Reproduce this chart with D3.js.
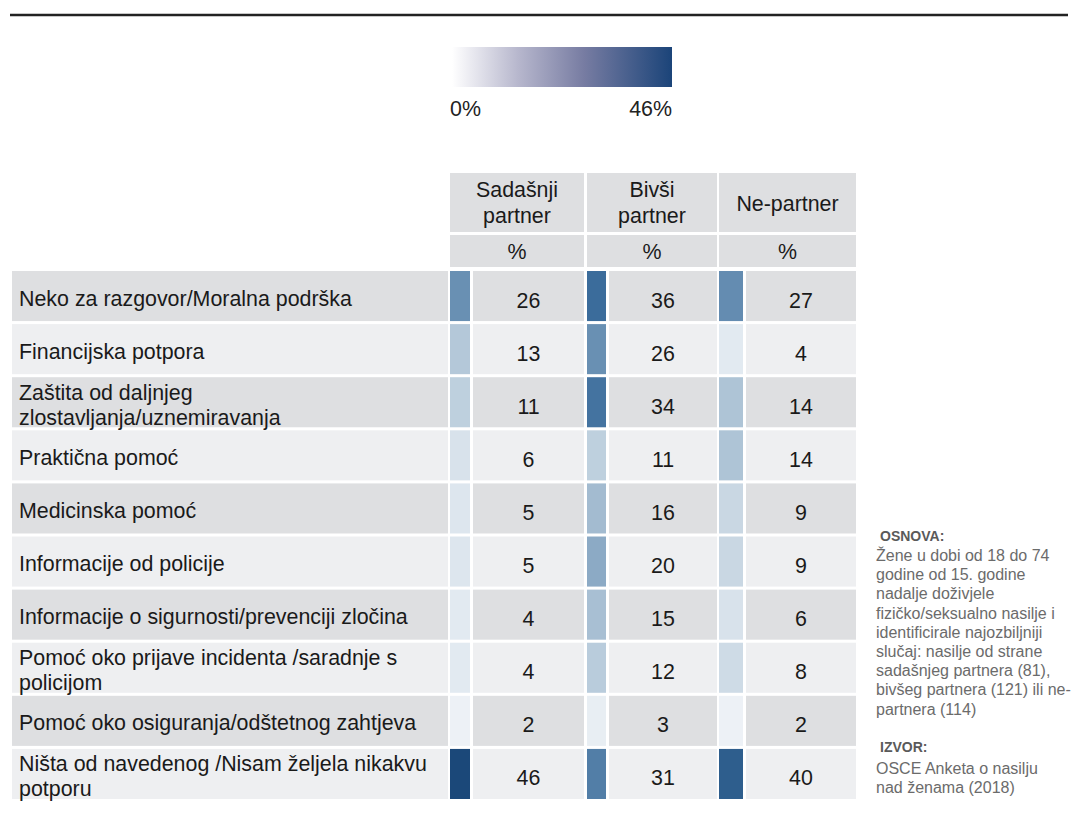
<!DOCTYPE html>
<html>
<head>
<meta charset="utf-8">
<script src="https://cdn.jsdelivr.net/npm/d3@7"></script>
<style>
  body { margin: 0; background: #fff; }
  text { font-family: "Liberation Sans", Arial, Helvetica, sans-serif; }
</style>
</head>
<body>
<div id="chart"></div>
<script>
// data
const categories = [
  "Neko za razgovor/Moralna podrška",
  "Financijska potpora",
  "Zaštita od daljnjeg\nzlostavljanja/uznemiravanja",
  "Praktična pomoć",
  "Medicinska pomoć",
  "Informacije od policije",
  "Informacije o sigurnosti/prevenciji zločina",
  "Pomoć oko prijave incidenta /saradnje s\npolicijom",
  "Pomoć oko osiguranja/odštetnog zahtjeva",
  "Ništa od navedenog /Nisam željela nikakvu\npotporu"
];
const seriesNames = ["Sadašnji\npartner", "Bivši\npartner", "Ne-partner"];
const sadasnji = [26, 13, 11, 6, 5, 5, 4, 4, 2, 46];
const bivsi = [36, 26, 34, 11, 16, 20, 15, 12, 3, 31];
const nePartner = [27, 4, 14, 14, 9, 9, 6, 8, 2, 40];
const legendTicks = ["0%", "46%"];
const unitLabel = "%";
const noteBaseTitle = "OSNOVA:";
const noteBase = [
  "Žene u dobi od 18 do 74",
  "godine od 15. godine",
  "nadalje doživjele",
  "fizičko/seksualno nasilje i",
  "identificirale najozbiljniji",
  "slučaj: nasilje od strane",
  "sadašnjeg partnera (81),",
  "bivšeg partnera (121) ili ne-",
  "partnera (114)"
];
const noteSourceTitle = "IZVOR:";
const noteSource = ["OSCE Anketa o nasilju", "nad ženama (2018)"];

const series = [sadasnji, bivsi, nePartner];

// layout
const W = 1071, H = 821;
const fs = 21.4;
const svg = d3.select("#chart").append("svg")
  .attr("width", W).attr("height", H);

const dark = "#dedfe1", light = "#eeeff1";
const colLeft = [450, 587, 719], colRight = [584, 717, 856], barW = [20, 19, 24];

// top rule
svg.append("line")
  .attr("x1", 10).attr("x2", 1068).attr("y1", 15).attr("y2", 15)
  .attr("stroke", "#222").attr("stroke-width", 2.5);

// colour scale
const color = d3.scaleLinear()
  .domain([0, 13, 26, 36, 46])
  .range(["#f7f9fb", "#b4c8d9", "#6990b3", "#3b6c9b", "#1b4879"]);

// legend
const defs = svg.append("defs");
const grad = defs.append("linearGradient").attr("id", "lg");
[[0, "#ffffff"], [0.3, "#b7b7cd"], [0.6, "#777ca2"], [1, "#1b4479"]].forEach(s =>
  grad.append("stop").attr("offset", s[0]).attr("stop-color", s[1]));
const lx = d3.scaleLinear().domain([0, 46]).range([452, 672]);
svg.append("rect")
  .attr("x", lx(0)).attr("y", 47).attr("width", lx(46) - lx(0)).attr("height", 40)
  .attr("fill", "url(#lg)");
svg.append("text").attr("x", lx(0) - 2).attr("y", 116)
  .attr("font-size", fs).attr("fill", "#222").text(legendTicks[0]);
svg.append("text").attr("x", lx(46)).attr("y", 116).attr("text-anchor", "end")
  .attr("font-size", fs).attr("fill", "#222").text(legendTicks[1]);

// header
seriesNames.forEach((name, j) => {
  const cx = (colLeft[j] + colRight[j]) / 2;
  svg.append("rect").attr("x", colLeft[j]).attr("y", 173)
    .attr("width", colRight[j] - colLeft[j]).attr("height", 59).attr("fill", dark);
  svg.append("rect").attr("x", colLeft[j]).attr("y", 235)
    .attr("width", colRight[j] - colLeft[j]).attr("height", 32).attr("fill", dark);
  const lines = name.split("\n");
  const t = svg.append("text").attr("text-anchor", "middle")
    .attr("font-size", fs).attr("fill", "#1a1a1a");
  lines.forEach((l, k) => {
    t.append("tspan").attr("x", cx)
      .attr("y", lines.length === 1 ? 211 : 197 + k * 25.5).text(l);
  });
  svg.append("text").attr("x", cx).attr("y", 259).attr("text-anchor", "middle")
    .attr("font-size", fs).attr("fill", "#1a1a1a").text(unitLabel);
});

// rows
const y = d3.scaleBand().domain(d3.range(categories.length))
  .range([271, 799]).paddingInner(0.057);

const rows = svg.append("g").selectAll("g")
  .data(categories)
  .join("g")
  .attr("transform", (d, i) => `translate(0,${y(i)})`);

rows.append("rect")
  .attr("x", 12).attr("width", 436).attr("height", y.bandwidth())
  .attr("fill", (d, i) => i % 2 ? light : dark);

rows.append("text")
  .attr("font-size", fs).attr("fill", "#1a1a1a")
  .each(function (d) {
    const lines = d.split("\n");
    const t = d3.select(this);
    lines.forEach((l, k) => {
      t.append("tspan").attr("x", 19)
        .attr("y", lines.length === 1 ? y.bandwidth() / 2 + 9.5 : 22.5 + k * 25).text(l);
    });
  });

series.forEach((vals, j) => {
  rows.append("rect")
    .attr("x", colLeft[j]).attr("width", barW[j]).attr("height", y.bandwidth())
    .attr("fill", (d, i) => color(vals[i]));
  rows.append("rect")
    .attr("x", colLeft[j] + barW[j] + 3).attr("width", colRight[j] - colLeft[j] - barW[j] - 3)
    .attr("height", y.bandwidth())
    .attr("fill", (d, i) => i % 2 ? light : dark);
  rows.append("text")
    .attr("x", (colLeft[j] + barW[j] + 3 + colRight[j]) / 2)
    .attr("y", y.bandwidth() / 2 + 11.5)
    .attr("text-anchor", "middle").attr("font-size", fs).attr("fill", "#1a1a1a")
    .text((d, i) => vals[i]);
});

// side notes
const note = svg.append("g").attr("fill", "#6b6b6b");
note.append("text").attr("x", 880).attr("y", 541)
  .attr("font-size", 14).attr("font-weight", "bold").attr("fill", "#5a5a5a").text(noteBaseTitle);
noteBase.forEach((l, k) => note.append("text").attr("x", 876).attr("y", 561 + k * 19.2)
  .attr("font-size", 16).text(l));
note.append("text").attr("x", 880).attr("y", 752)
  .attr("font-size", 14).attr("font-weight", "bold").attr("fill", "#5a5a5a").text(noteSourceTitle);
noteSource.forEach((l, k) => note.append("text").attr("x", 876).attr("y", 774 + k * 19)
  .attr("font-size", 16).text(l));
</script>
</body>
</html>
